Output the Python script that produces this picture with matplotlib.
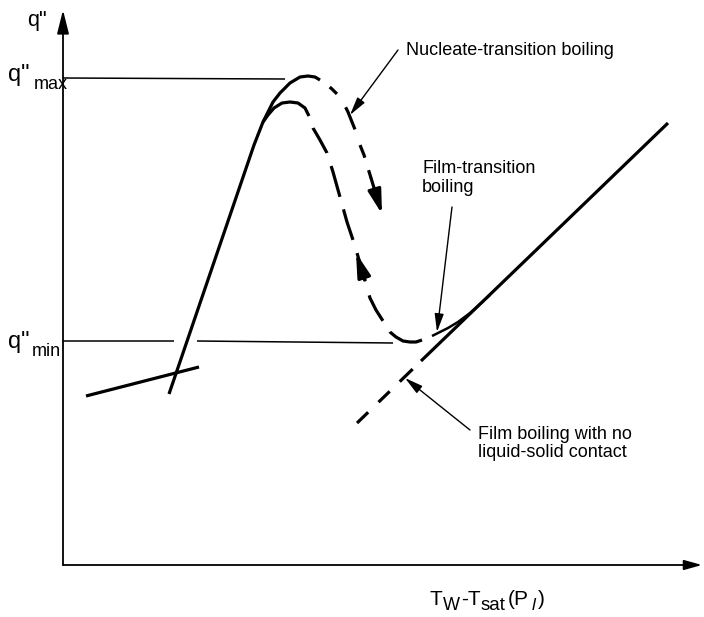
import matplotlib
matplotlib.use('Agg')
import matplotlib.pyplot as plt

plt.rcParams['font.family'] = ['Liberation Sans', 'DejaVu Sans']
plt.rcParams['lines.scale_dashes'] = False

# ---- schematic data (in canvas units) ----
free_conv_x = [86, 199]
free_conv_y = [396, 367]

upper_solid_x = [169, 254, 263, 268, 273, 280, 290, 300, 308, 315, 320]
upper_solid_y = [394, 145, 122, 112, 102, 93, 83, 77, 76, 77, 80]
upper_dash_x = [320, 326, 332, 338, 343, 348, 352, 356, 360, 364, 367, 371]
upper_dash_y = [80, 84, 89, 95, 102, 112, 122, 132, 145, 155, 165, 178]
upper_arrow = [(371, 178), (382, 214)]

lower_solid_x = [263, 268, 274, 282, 290, 298, 305, 309]
lower_solid_y = [122, 115, 108, 103, 102, 103, 108, 116]
lower_dash_x = [309, 313, 320, 327, 333, 340, 347, 353, 357, 362, 366, 370, 376,
                383, 390, 396, 403, 410, 416, 422]
lower_dash_y = [116, 128, 140, 153, 172, 197, 222, 240, 253, 270, 285, 298, 310,
                321, 332, 337, 341, 342, 342, 340]
lower_arrow = [(365, 280), (356, 253)]

film_dash_x = [355, 421]
film_dash_y = [425, 361]
film_solid_x = [421, 668]
film_solid_y = [361, 123]

film_trans_x = [432, 440, 448, 458, 470, 480, 490]
film_trans_y = [336, 332, 328, 322, 313, 304, 295]

qmax_level = 78
qmin_level = 341

fig = plt.figure(figsize=(7.04, 6.17), dpi=100)
ax = fig.add_axes([0, 0, 1, 1])
ax.set_xlim(0, 704)
ax.set_ylim(617, 0)
ax.axis('off')

K = 'black'
thick = 2.3
thin = 1.0
PT = 0.72  # canvas px -> points


def dashes(seq):
    return (0, tuple(max(v, 0.01) * PT for v in seq))


# axes with arrows
ax.annotate('', xy=(63, 10), xytext=(63, 565),
            arrowprops=dict(arrowstyle='-|>,head_length=1.2,head_width=0.3',
                            lw=1.3, color=K, shrinkA=0, shrinkB=0, mutation_scale=12))
ax.annotate('', xy=(702, 565), xytext=(63, 565),
            arrowprops=dict(arrowstyle='-|>,head_length=0.9,head_width=0.25',
                            lw=1.3, color=K, shrinkA=0, shrinkB=0, mutation_scale=12))

# reference levels
ax.plot([63, 285], [qmax_level, qmax_level + 1], color=K, lw=1.1, solid_capstyle='butt')
ax.plot([63, 174], [qmin_level, qmin_level], color=K, lw=1.1, solid_capstyle='butt')
ax.plot([197, 393], [qmin_level, qmin_level + 2], color=K, lw=1.1, solid_capstyle='butt')

# curves
ax.plot(free_conv_x, free_conv_y, color=K, lw=thick, solid_capstyle='butt')
ax.plot(upper_solid_x, upper_solid_y, color=K, lw=thick, solid_capstyle='butt')
ax.plot(upper_dash_x, upper_dash_y, color=K, lw=thick, dash_capstyle='butt',
        linestyle=dashes([0, 12, 10, 16, 24, 16.5, 13.5, 13, 30, 5]))
ax.plot(lower_solid_x, lower_solid_y, color=K, lw=thick, solid_capstyle='butt')
ax.plot(lower_dash_x, lower_dash_y, color=K, lw=thick, dash_capstyle='butt',
        linestyle=dashes([0, 12.6, 28.7, 13.7, 32, 13, 32, 13.8, 29, 15, 29, 13, 40, 5]))
ax.plot(film_dash_x, film_dash_y, color=K, lw=thick, dash_capstyle='butt',
        linestyle=dashes([0, 2.8, 15.5, 14.5, 15.5, 14, 18, 100]))
ax.plot(film_solid_x, film_solid_y, color=K, lw=thick, solid_capstyle='butt')
ax.plot(film_trans_x, film_trans_y, color=K, lw=1.8, solid_capstyle='butt')

# direction arrows on the curves
for (x0, y0), (x1, y1) in (upper_arrow, lower_arrow):
    ax.annotate('', xy=(x1, y1), xytext=(x0, y0),
                arrowprops=dict(arrowstyle='-|>,head_length=1.2,head_width=0.33',
                                lw=thick, color=K, shrinkA=0, shrinkB=0,
                                mutation_scale=12))


# label arrows
def pointer(tip, tail):
    ax.annotate('', xy=tip, xytext=tail,
                arrowprops=dict(arrowstyle='-|>,head_length=1.0,head_width=0.25',
                                lw=thin, color=K, shrinkA=0, shrinkB=0,
                                mutation_scale=11))


pointer((350, 115), (398, 50))
pointer((437, 332), (452, 207))
pointer((405, 378), (470, 430))

fs = 13
ax.text(406, 55, 'Nucleate-transition boiling', fontsize=fs, va='baseline', ha='left')
ax.text(422, 173, 'Film-transition', fontsize=fs, va='baseline', ha='left')
ax.text(422, 192, 'boiling', fontsize=fs, va='baseline', ha='left')
ax.text(478, 439, 'Film boiling with no', fontsize=fs, va='baseline', ha='left')
ax.text(478, 457, 'liquid-solid contact', fontsize=fs, va='baseline', ha='left')

# axis labels built from pieces (large subscripts as in the original)
ax.text(27, 26, 'q"', fontsize=15.5, va='baseline', ha='left')
ax.text(8, 81, 'q"', fontsize=17, va='baseline', ha='left')
ax.text(34, 89, 'max', fontsize=13, va='baseline', ha='left')
ax.text(8, 348, 'q"', fontsize=17, va='baseline', ha='left')
ax.text(32, 356, 'min', fontsize=13, va='baseline', ha='left')

ax.text(430, 605, 'T', fontsize=15, va='baseline', ha='left')
ax.text(443, 610, 'W', fontsize=13, va='baseline', ha='left')
ax.text(461, 605, '-T', fontsize=15, va='baseline', ha='left')
ax.text(481, 610, 'sat', fontsize=13.5, va='baseline', ha='left')
ax.text(508, 605, '(P', fontsize=15, va='baseline', ha='left')
ax.text(532, 610, 'l', fontsize=12.5, va='baseline', ha='left', style='italic')
ax.text(538, 605, ')', fontsize=15, va='baseline', ha='left')

fig.savefig('out.png', dpi=100)
